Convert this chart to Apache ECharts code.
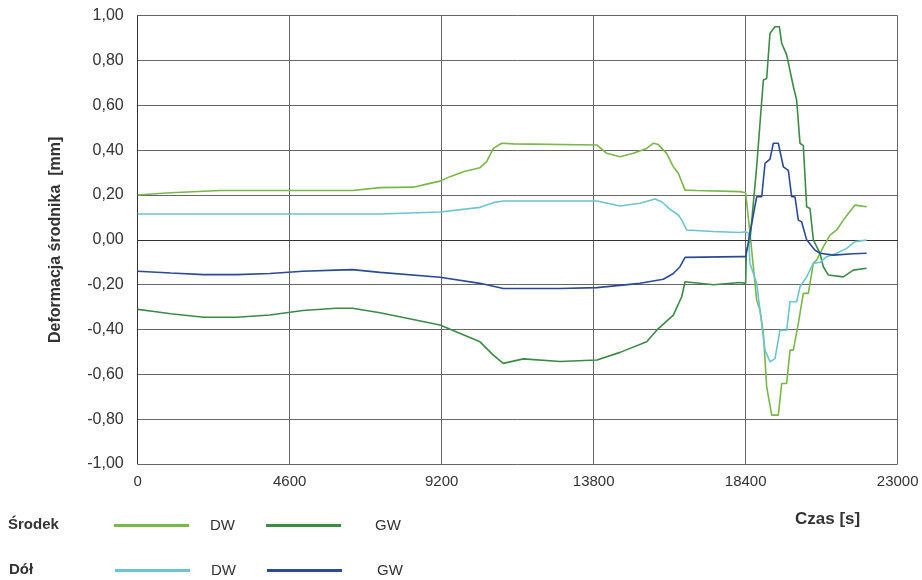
<!DOCTYPE html>
<html><head><meta charset="utf-8">
<script src="https://cdn.jsdelivr.net/npm/echarts@6/dist/echarts.min.js"></script>
<style>html,body{margin:0;padding:0;background:#fff}#c{width:922px;height:580px}</style>
</head><body><div id="c"></div>
<script>
// Środek DW
const srodekDW_t = [0,1000,2500,4600,6500,7333,8341,8843,9149,9451,9855,10359,10561,10762,11016,11367,13900,14193,14596,14999,15404,15605,15756,16008,16210,16361,16564,16917,18225,18399,18440,18530,18732,18833,18934,19035,19186,19387,19489,19640,19741,19842,19993,20144,20295,20447,20548,20749,20951,21153,21355,21506,21707,22061];
const srodekDW_v = [0.20,0.21,0.22,0.22,0.22,0.233,0.235,0.252,0.262,0.282,0.304,0.322,0.349,0.408,0.431,0.428,0.423,0.386,0.371,0.386,0.408,0.431,0.425,0.386,0.326,0.297,0.222,0.22,0.215,0.21,0.21,0.029,-0.269,-0.313,-0.417,-0.656,-0.782,-0.782,-0.641,-0.641,-0.492,-0.492,-0.373,-0.239,-0.239,-0.105,-0.09,-0.031,0.021,0.044,0.088,0.118,0.155,0.148];
// Środek GW
const srodekGW_t = [0,500,1000,2000,3000,4000,5000,6000,6500,7333,9149,10359,10762,11064,11670,12780,13900,14596,15404,15707,16210,16463,16564,17421,18225,18399,18420,18530,18732,18934,19035,19135,19287,19418,19489,19640,19690,19842,19942,20043,20144,20245,20346,20447,20649,20749,20901,21355,21657,22061];
const srodekGW_v = [-0.31,-0.32,-0.33,-0.345,-0.345,-0.335,-0.315,-0.305,-0.305,-0.325,-0.38,-0.455,-0.514,-0.551,-0.531,-0.543,-0.536,-0.502,-0.455,-0.403,-0.336,-0.254,-0.187,-0.2,-0.19,-0.194,-0.05,0.0,0.326,0.713,0.72,0.922,0.951,0.951,0.877,0.825,0.825,0.684,0.624,0.431,0.42,0.148,0.14,0.0,-0.06,-0.12,-0.157,-0.165,-0.135,-0.127];
// Dół DW
const dolDW_t = [0,4600,7333,9149,10359,10762,11064,13900,14596,15201,15655,15857,16109,16361,16463,16614,17421,18225,18399,18480,18530,18732,18833,18985,19135,19287,19438,19640,19741,19942,20043,20245,20447,20649,20850,21153,21456,21707,22061];
const dolDW_v = [0.115,0.115,0.115,0.124,0.145,0.166,0.173,0.173,0.151,0.163,0.182,0.17,0.136,0.111,0.089,0.044,0.037,0.033,0.036,0.03,-0.105,-0.194,-0.313,-0.492,-0.544,-0.53,-0.403,-0.403,-0.276,-0.276,-0.209,-0.165,-0.105,-0.1,-0.075,-0.06,-0.038,-0.008,-0.001];
// Dół GW
const dolGW_t = [0,1000,2000,3000,4000,5000,6000,6500,7333,9149,10359,11064,12780,13900,15201,15907,16210,16412,16564,18225,18399,18530,18732,18884,18985,19135,19236,19387,19539,19690,19791,19892,19993,20094,20245,20497,20649,21052,21657,22061];
const dolGW_v = [-0.14,-0.148,-0.155,-0.155,-0.15,-0.14,-0.135,-0.133,-0.145,-0.167,-0.194,-0.217,-0.217,-0.213,-0.194,-0.176,-0.15,-0.12,-0.078,-0.075,-0.075,0.03,0.192,0.192,0.341,0.36,0.431,0.431,0.326,0.31,0.192,0.192,0.088,0.08,0.0,-0.046,-0.06,-0.068,-0.062,-0.06];

const xTicks = [0,4600,9200,13800,18400,23000];

const zip = (t, v) => t.map((x, i) => [x, v[i]]);
const FONT = 'Liberation Sans';
const mk = (name, t, v, color) => ({
  name, type: 'line', data: zip(t, v), showSymbol: false, symbol: 'none',
  lineStyle: { color, width: 1.6 }, itemStyle: { color }, animation: false
});
const legTxt = pad => ({ color: '#333', fontFamily: FONT, fontSize: 15, padding: [0, 0, 0, pad] });

const chart = echarts.init(document.getElementById('c'));
chart.setOption({
  animation: false,
  grid: { left: 137.7, right: 24.3, top: 15.7, bottom: 116, show: false },
  xAxis: {
    type: 'value', min: xTicks[0], max: xTicks[xTicks.length - 1], interval: xTicks[1] - xTicks[0],
    axisLine: { show: true, lineStyle: { color: '#333', width: 1 } },
    axisTick: { show: false },
    axisLabel: { color: '#333', fontFamily: FONT, fontSize: 15, margin: 10, formatter: v => String(v) },
    splitLine: { show: true, lineStyle: { color: '#666', width: 1 } }
  },
  yAxis: {
    type: 'value', min: -1, max: 1, interval: 0.2,
    axisLine: { show: true, lineStyle: { color: '#333', width: 1 } },
    axisTick: { show: false },
    axisLabel: { color: '#333', fontFamily: FONT, fontSize: 16, margin: 14,
      formatter: v => v.toFixed(2).replace('.', ',') },
    splitLine: { show: true, lineStyle: { color: '#666', width: 1 } },
    name: 'Deformacja środnika  [mm]', nameLocation: 'middle', nameGap: 74,
    nameTextStyle: { color: '#333', fontFamily: FONT, fontSize: 16, fontWeight: 'bold' }
  },
  legend: [
    { data: [{ name: 'Środek DW', textStyle: legTxt(16) }, { name: 'Środek GW', textStyle: legTxt(29) }],
      left: 109, top: 513, orient: 'horizontal',
      icon: 'rect', itemWidth: 75, itemHeight: 3, itemGap: 31,
      formatter: n => n.split(' ')[1], textStyle: legTxt(16) },
    { data: [{ name: 'Dół DW', textStyle: legTxt(16) }, { name: 'Dół GW', textStyle: legTxt(30) }],
      left: 110, top: 558, orient: 'horizontal',
      icon: 'rect', itemWidth: 75, itemHeight: 3, itemGap: 31,
      formatter: n => n.split(' ')[1], textStyle: legTxt(16) }
  ],
  graphic: [
    { type: 'text', left: 8, top: 517, style: { text: 'Środek', fill: '#333', font: 'bold 15px "Liberation Sans"' } },
    { type: 'text', left: 9, top: 562, style: { text: 'Dół', fill: '#333', font: 'bold 15px "Liberation Sans"' } },
    { type: 'text', left: 795, top: 511, style: { text: 'Czas [s]', fill: '#333', font: 'bold 17px "Liberation Sans"' } }
  ],
  series: [
    mk('Środek DW', srodekDW_t, srodekDW_v, '#7ab648'),
    mk('Środek GW', srodekGW_t, srodekGW_v, '#3c8a46'),
    mk('Dół DW', dolDW_t, dolDW_v, '#6cc4cf'),
    mk('Dół GW', dolGW_t, dolGW_v, '#2c4a93')
  ]
});
</script>
</body></html>
